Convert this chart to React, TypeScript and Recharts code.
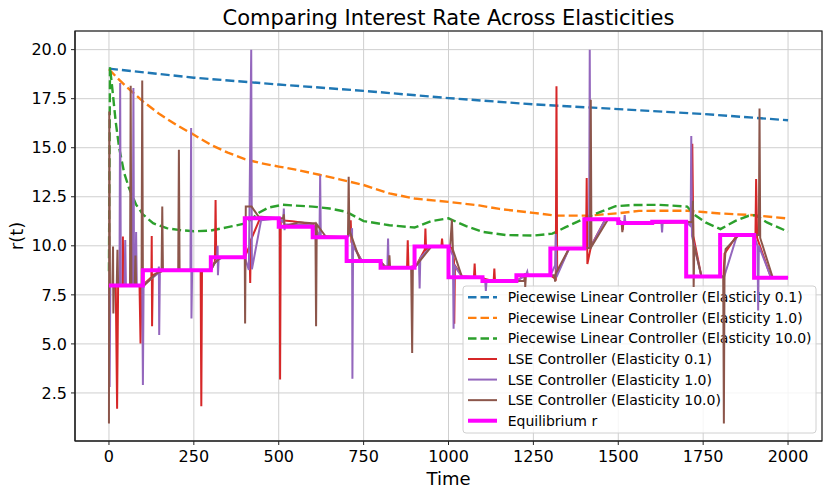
import { CartesianGrid, Line, LineChart, XAxis, YAxis } from "recharts";

// [time, r] pairs
const plElastic01: [number, number][] = [
  [0, 19.03], [250, 18.57], [500, 18.22], [750, 17.9], [1000, 17.53],
  [1250, 17.21], [1500, 16.97], [1750, 16.72], [2000, 16.4],
];

const plElastic1: [number, number][] = [
  [0, 19.0], [25, 18.55], [50, 18.13], [75, 17.75], [100, 17.36], [150, 16.7],
  [200, 16.15], [250, 15.66], [300, 15.15], [350, 14.75], [400, 14.42], [450, 14.2],
  [500, 14.04], [550, 13.88], [620, 13.62], [679, 13.39], [750, 13.1], [826, 12.67],
  [900, 12.41], [1000, 12.24], [1090, 12.06], [1150, 11.88], [1250, 11.68],
  [1316, 11.54], [1414, 11.54], [1500, 11.66], [1561, 11.78], [1703, 11.79],
  [1750, 11.72], [1800, 11.65], [1900, 11.56], [2000, 11.39],
];

const plElastic10: [number, number][] = [
  [0, 8.7], [3, 19.1], [10, 18.0], [20, 16.3], [30, 15.0], [45, 13.7], [60, 12.9],
  [80, 12.1], [100, 11.6], [130, 11.15], [170, 10.9], [210, 10.8], [250, 10.74],
  [300, 10.78], [350, 10.95], [404, 11.15], [443, 11.7], [470, 11.95], [512, 12.09],
  [600, 12.0], [650, 11.9], [698, 11.74], [750, 11.26], [826, 11.05], [900, 10.93],
  [949, 11.26], [1000, 11.4], [1052, 11.0], [1101, 10.71], [1169, 10.55],
  [1250, 10.52], [1306, 10.62], [1345, 10.95], [1414, 11.5], [1492, 12.02],
  [1541, 12.08], [1620, 12.09], [1703, 12.0], [1723, 11.6], [1757, 11.19],
  [1801, 10.85], [1845, 11.27], [1884, 11.53], [1904, 11.56], [1938, 11.19],
  [2000, 10.72],
];

const lseElastic01: [number, number][] = [
  [0, 8.0], [20, 8.0], [24, 1.7], [27, 8.0], [40, 8.0], [41, 10.47], [43, 8.0],
  [90, 8.0], [93, 5.02], [96, 8.0], [100, 8.0], [125, 8.4], [126, 10.5], [127, 5.9],
  [129, 8.5], [160, 8.75], [270, 8.75], [272, 1.82], [274, 8.75], [300, 8.75],
  [312, 9.2], [314, 12.34], [316, 9.3], [335, 9.42], [400, 9.42], [414, 10.0],
  [416, 8.1], [418, 10.3], [445, 11.4], [500, 11.4], [503, 11.3], [504, 3.18],
  [506, 11.3], [540, 11.25], [600, 11.1], [620, 10.5], [700, 10.43], [710, 10.6],
  [712, 11.3], [714, 10.2], [745, 9.22], [800, 9.2], [815, 8.9], [878, 8.9],
  [880, 10.28], [882, 8.9], [905, 9.0], [930, 9.8], [932, 10.88], [934, 9.8],
  [950, 9.97], [979, 9.97], [981, 10.37], [983, 9.97], [1010, 9.9], [1016, 9.3],
  [1017, 6.03], [1019, 9.0], [1040, 8.45], [1075, 8.4], [1077, 9.1], [1079, 8.4],
  [1100, 8.35], [1133, 8.2], [1135, 8.84], [1137, 8.2], [1200, 8.2], [1225, 8.5],
  [1300, 8.5], [1316, 8.3], [1318, 18.13], [1320, 8.6], [1355, 9.86], [1405, 9.86],
  [1407, 13.45], [1409, 9.07], [1420, 10.0], [1462, 11.35], [1500, 11.3],
  [1511, 11.2], [1513, 10.8], [1515, 11.16], [1600, 11.16], [1715, 11.2],
  [1718, 15.2], [1721, 10.5], [1745, 8.43], [1810, 8.43], [1813, 9.6],
  [1850, 10.55], [1904, 10.55], [1906, 13.4], [1909, 10.4], [1950, 8.37],
  [2000, 8.37],
];

const lseElastic1: [number, number][] = [
  [0, 8.0], [1, 8.0], [2, 2.8], [4, 8.0], [31, 8.0], [33, 18.3], [35, 8.0],
  [46, 8.0], [48, 10.3], [50, 8.0], [70, 8.0], [72, 18.04], [74, 8.0], [78, 8.0],
  [80, 10.7], [82, 8.0], [98, 8.0], [100, 2.9], [102, 8.0], [145, 8.6], [147, 8.94],
  [148, 5.45], [150, 8.7], [160, 8.75], [240, 8.75], [242, 16.0], [243, 6.3],
  [245, 8.75], [300, 8.75], [318, 9.3], [320, 10.0], [321, 8.5], [323, 9.3],
  [335, 9.42], [400, 9.42], [412, 8.77], [419, 20.0], [421, 8.8], [448, 11.3],
  [500, 11.4], [513, 11.2], [515, 11.9], [517, 10.8], [520, 11.1], [600, 11.05],
  [615, 10.6], [620, 10.43], [622, 13.6], [624, 10.43], [700, 10.43], [714, 10.6],
  [716, 10.9], [717, 3.22], [719, 10.0], [745, 9.22], [800, 9.2], [815, 8.9],
  [820, 8.9], [822, 10.37], [824, 8.9], [900, 8.88], [913, 9.2], [915, 7.82],
  [917, 9.4], [950, 9.97], [1000, 9.97], [1013, 9.5], [1015, 5.77], [1017, 9.0],
  [1040, 8.42], [1100, 8.4], [1108, 8.25], [1110, 7.7], [1112, 8.2], [1200, 8.2],
  [1228, 8.5], [1232, 8.68], [1234, 8.5], [1300, 8.5], [1314, 9.0], [1316, 10.6],
  [1318, 8.4], [1355, 9.86], [1400, 9.86], [1414, 9.9], [1416, 20.0], [1418, 9.9],
  [1462, 11.35], [1500, 11.3], [1517, 11.16], [1519, 11.57], [1521, 11.16],
  [1627, 11.2], [1629, 10.68], [1631, 11.23], [1700, 11.23], [1713, 11.0],
  [1715, 15.6], [1717, 10.5], [1745, 8.43], [1812, 8.43], [1850, 10.55],
  [1900, 10.55], [1910, 10.0], [1912, 6.7], [1914, 10.0], [1950, 8.37], [2000, 8.37],
];

const lseElastic10: [number, number][] = [
  [0, 0.94], [1, 16.85], [3, 8.0], [10, 8.0], [12, 9.96], [13, 6.55], [15, 8.0],
  [23, 8.0], [25, 9.8], [27, 8.0], [62, 8.0], [64, 18.16], [66, 8.0], [76, 8.0],
  [78, 9.5], [80, 8.0], [96, 8.0], [98, 18.43], [100, 8.0], [105, 8.0], [140, 8.6],
  [155, 8.7], [157, 12.0], [159, 8.75], [204, 8.75], [206, 14.9], [208, 8.75],
  [300, 8.75], [310, 9.1], [330, 9.42], [400, 9.42], [401, 6.04], [403, 12.0],
  [420, 12.0], [440, 11.5], [500, 11.4], [513, 11.4], [515, 11.6], [517, 11.0],
  [560, 11.2], [600, 11.15], [608, 11.15], [610, 5.9], [612, 11.1], [640, 10.43],
  [700, 10.43], [704, 10.5], [706, 13.52], [708, 10.8], [740, 9.22], [800, 9.22],
  [810, 8.95], [824, 8.95], [826, 9.52], [828, 8.9], [890, 8.88], [893, 4.54],
  [895, 8.9], [905, 9.0], [950, 9.97], [1005, 9.97], [1010, 11.34], [1013, 9.8],
  [1040, 8.4], [1100, 8.4], [1110, 8.2], [1223, 8.2], [1225, 8.6], [1226, 7.9],
  [1228, 8.5], [1300, 8.5], [1312, 8.5], [1314, 8.17], [1316, 8.6], [1355, 9.86],
  [1417, 9.9], [1419, 17.45], [1421, 9.96], [1470, 11.35], [1500, 11.3],
  [1510, 11.16], [1512, 10.7], [1514, 11.16], [1700, 11.23], [1718, 11.2],
  [1720, 12.3], [1722, 7.9], [1724, 10.0], [1745, 8.43], [1809, 8.43], [1811, 0.94],
  [1813, 9.0], [1816, 9.83], [1855, 10.55], [1914, 10.55], [1916, 17.0],
  [1918, 10.4], [1955, 8.37], [2000, 8.37],
];

const equilibriumT = [0, 100, 300, 400, 500, 600, 700, 800, 900, 1000, 1100, 1200, 1300, 1400, 1500, 1600, 1700, 1800, 1900, 2000];
const equilibriumR = [7.98, 8.75, 9.42, 11.4, 10.97, 10.43, 9.22, 8.88, 9.97, 8.4, 8.2, 8.5, 9.86, 11.35, 11.16, 11.23, 8.43, 10.55, 8.37, 8.37];

const timeTicks = [0, 250, 500, 750, 1000, 1250, 1500, 1750, 2000];
const rTicks = [2.5, 5, 7.5, 10, 12.5, 15, 17.5, 20];

const FONT = "DejaVu Sans";

const toPoints = (pairs: [number, number][]) => pairs.map(([t, r]) => ({ t, r }));

type Series = {
  name: string;
  data: { t: number; r: number }[];
  color: string;
  width: number;
  dashed?: boolean;
  step?: boolean;
};

const series: Series[] = [
  { name: "Piecewise Linear Controller (Elasticity 0.1)", data: toPoints(plElastic01), color: "#1f77b4", width: 2.4, dashed: true },
  { name: "Piecewise Linear Controller (Elasticity 1.0)", data: toPoints(plElastic1), color: "#ff7f0e", width: 2.4, dashed: true },
  { name: "Piecewise Linear Controller (Elasticity 10.0)", data: toPoints(plElastic10), color: "#2ca02c", width: 2.4, dashed: true },
  { name: "LSE Controller (Elasticity 0.1)", data: toPoints(lseElastic01), color: "#d62728", width: 2 },
  { name: "LSE Controller (Elasticity 1.0)", data: toPoints(lseElastic1), color: "#9467bd", width: 2 },
  { name: "LSE Controller (Elasticity 10.0)", data: toPoints(lseElastic10), color: "#8c564b", width: 2 },
  {
    name: "Equilibrium r",
    data: equilibriumT.map((t, i) => ({ t, r: equilibriumR[i] })),
    color: "#ff00ff",
    width: 4,
    step: true,
  },
];

function LegendBox() {
  const x = 463;
  const y = 286;
  const rowH = 20.57;
  return (
    <g>
      <rect x={x} y={y} width={353} height={147} rx={3} fill="#ffffff" fillOpacity={0.8} stroke="#d0d0d0" />
      {series.map((s, i) => {
        const cy = y + 11.3 + i * rowH;
        return (
          <g key={s.name}>
            <line
              x1={468}
              x2={497}
              y1={cy}
              y2={cy}
              stroke={s.color}
              strokeWidth={s.width}
              strokeDasharray={s.dashed ? "8.5 4" : undefined}
            />
            <text x={507.7} y={cy} dy="0.36em" fontSize={14} fontFamily={FONT} fill="#000">
              {s.name}
            </text>
          </g>
        );
      })}
    </g>
  );
}

export default function App() {
  return (
    <div style={{ position: "absolute", left: 0, top: 0, background: "#fff" }}>
      <LineChart width={831} height={496} margin={{ top: 31, right: 9, bottom: 0, left: 0 }}>
        <CartesianGrid stroke="#cfcfcf" strokeWidth={1} />
        <XAxis
          dataKey="t"
          type="number"
          domain={[-100, 2100]}
          ticks={timeTicks}
          allowDataOverflow
          height={55}
          axisLine={{ stroke: "#222", strokeWidth: 1.2 }}
          tickLine={{ stroke: "#222" }}
          tickSize={4}
          tickMargin={5.5}
          tick={{ fontSize: 16, fontFamily: FONT, fill: "#000" }}
        />
        <YAxis
          type="number"
          domain={[0.05, 20.95]}
          ticks={rTicks}
          allowDataOverflow
          width={75}
          axisLine={{ stroke: "#222", strokeWidth: 1.2 }}
          tickLine={{ stroke: "#222" }}
          tickSize={4}
          tickMargin={4}
          tickFormatter={(v: number) => v.toFixed(1)}
          tick={{ fontSize: 16, fontFamily: FONT, fill: "#000" }}
        />
        {series.map((s) => (
          <Line
            key={s.name}
            data={s.data}
            dataKey="r"
            name={s.name}
            type={s.step ? "stepAfter" : "linear"}
            stroke={s.color}
            strokeWidth={s.width}
            strokeDasharray={s.dashed ? "9 4" : undefined}
            dot={false}
            activeDot={false}
            isAnimationActive={false}
          />
        ))}
        {/* plot frame (top and right spines) */}
        <rect x={75} y={31} width={747} height={410} fill="none" stroke="#222" strokeWidth={1.2} />
        <text x={448.5} y={25} textAnchor="middle" fontSize={21} fontFamily={FONT} fill="#000">
          Comparing Interest Rate Across Elasticities
        </text>
        <text x={448.5} y={485} textAnchor="middle" fontSize={18} fontFamily={FONT} fill="#000">
          Time
        </text>
        <text
          x={17}
          y={236}
          textAnchor="middle"
          dy="0.36em"
          transform="rotate(-90 17 236)"
          fontSize={18}
          fontFamily={FONT}
          fill="#000"
        >
          r(t)
        </text>
        <LegendBox />
      </LineChart>
    </div>
  );
}
